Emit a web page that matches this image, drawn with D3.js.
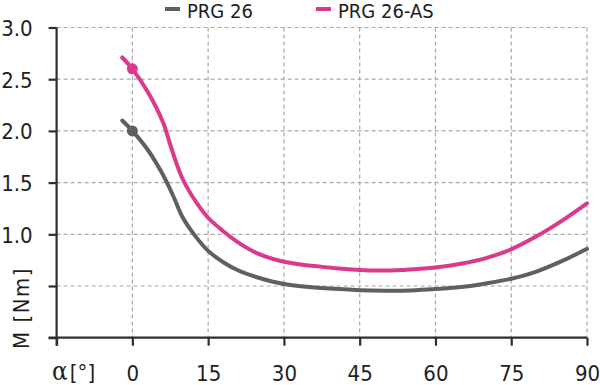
<!DOCTYPE html>
<html>
<head>
<meta charset="utf-8">
<script src="https://cdn.jsdelivr.net/npm/d3@7"></script>
<style>
  body { margin: 0; background: #fff; }
  svg text { font-family: "DejaVu Sans", sans-serif; font-stretch: condensed; fill: #1e1e1e; }
</style>
</head>
<body>
<svg id="chart" width="600" height="385"></svg>
<script>
// angle alpha [deg]
const angles = [-2, 0, 3, 6, 8, 10, 12.5, 15, 18, 21, 25, 30, 37.5, 45, 50, 55, 60, 65, 70, 75, 80, 85, 90];
// torque M [Nm]
const prg26 = [2.10, 2.00, 1.82, 1.58, 1.38, 1.16, 0.98, 0.84, 0.73, 0.65, 0.58, 0.52, 0.48, 0.46, 0.455, 0.457, 0.47, 0.49, 0.525, 0.57, 0.64, 0.74, 0.86];
const prg26as = [2.71, 2.60, 2.38, 2.09, 1.79, 1.53, 1.32, 1.16, 1.03, 0.92, 0.81, 0.735, 0.685, 0.655, 0.65, 0.66, 0.68, 0.715, 0.77, 0.855, 0.98, 1.13, 1.30];
// nominal points marked with a dot
const markAngle = 0;
const markPrg26 = 2.0;
const markPrg26as = 2.6;

const xTicks = [-15, 0, 15, 30, 45, 60, 75, 90];
const yTicks = [0, 0.5, 1.0, 1.5, 2.0, 2.5, 3.0];
const seriesNames = ["PRG 26", "PRG 26-AS"];
const colors = ["#606062", "#db398c"];

const svg = d3.select("#chart");

const x = d3.scaleLinear().domain([-15, 90]).range([56.6, 587]);
const y = d3.scaleLinear().domain([0, 3]).range([337.7, 27.5]);

// grid
const grid = svg.append("g").attr("class", "grid")
  .attr("stroke", "#a8a8a8").attr("stroke-width", 1.2).attr("stroke-dasharray", "4,3");
grid.selectAll(".vg").data(xTicks.filter(d => d >= 0)).enter().append("line")
  .attr("x1", d => x(d)).attr("x2", d => x(d))
  .attr("y1", y(3)).attr("y2", y(0));
grid.selectAll(".hg").data(yTicks.filter(d => d > 0)).enter().append("line")
  .attr("x1", x(-15)).attr("x2", x(90))
  .attr("y1", d => y(d)).attr("y2", d => y(d));

// axes
const xAxis = svg.append("g")
  .attr("transform", "translate(0," + y(0) + ")")
  .call(d3.axisBottom(x).tickValues(xTicks).tickSize(8).tickSizeOuter(0)
    .tickFormat(d => d < 0 ? "" : d));
const yAxis = svg.append("g")
  .attr("transform", "translate(" + x(-15) + ",0)")
  .call(d3.axisLeft(y).tickValues(yTicks).tickSize(8).tickSizeOuter(0)
    .tickFormat(d => d < 1 ? "" : d3.format(".1f")(d)));

[xAxis, yAxis].forEach(a => {
  a.selectAll(".domain").remove();
  a.selectAll(".tick line").attr("stroke", "#2e2e2e").attr("stroke-width", 2.2);
  a.selectAll(".tick text").attr("font-size", 22).attr("fill", "#1e1e1e")
    .attr("font-family", null);
});
xAxis.selectAll(".tick text").attr("y", 43).attr("dy", 0);
yAxis.selectAll(".tick text").attr("x", -24).attr("dy", "0.36em");

// axis lines
svg.append("line").attr("x1", x(-15) - 8).attr("x2", x(90))
  .attr("y1", y(0)).attr("y2", y(0)).attr("stroke", "#2e2e2e").attr("stroke-width", 2.2);
svg.append("line").attr("x1", x(-15)).attr("x2", x(-15))
  .attr("y1", y(3)).attr("y2", y(0) + 8).attr("stroke", "#2e2e2e").attr("stroke-width", 2.2);

// axis titles
svg.append("text")
  .attr("transform", "translate(29,308) rotate(-90)")
  .attr("text-anchor", "middle").attr("font-size", 22)
  .attr("letter-spacing", 1.5)
  .text("M [Nm]");
const xt = svg.append("text").attr("x", 52).attr("y", 380).attr("font-size", 22);
xt.append("tspan").attr("style", "font-family:'DejaVu Serif',serif;font-size:26px").text("α");
xt.append("tspan").attr("dx", 2).text("[°]");

// curves
const line = d3.line().x(d => x(d[0])).y(d => y(d[1])).curve(d3.curveCatmullRom.alpha(0.5));
[prg26, prg26as].forEach((vals, i) => {
  svg.append("path")
    .datum(angles.map((a, j) => [a, vals[j]]))
    .attr("d", line)
    .attr("fill", "none").attr("stroke", colors[i]).attr("stroke-width", 4)
    .attr("stroke-linecap", "round");
});
svg.append("circle").attr("cx", x(markAngle)).attr("cy", y(markPrg26)).attr("r", 5.5).attr("fill", colors[0]);
svg.append("circle").attr("cx", x(markAngle)).attr("cy", y(markPrg26as)).attr("r", 5.5).attr("fill", colors[1]);

// legend
const legX = [165, 316];
seriesNames.forEach((name, i) => {
  svg.append("line").attr("x1", legX[i]).attr("x2", legX[i] + 15)
    .attr("y1", 9).attr("y2", 9).attr("stroke", colors[i]).attr("stroke-width", 4);
  svg.append("text").attr("x", legX[i] + 22).attr("y", 18).attr("font-size", 20).text(name);
});
</script>
</body>
</html>
